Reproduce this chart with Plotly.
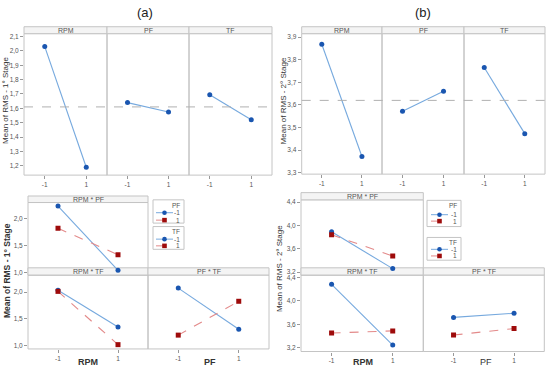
import plotly.graph_objects as go

W, H = 550, 373
levels = [-1, 1]

# ---- data ----
a_main = {"RPM": [2.03, 1.19], "PF": [1.64, 1.575], "TF": [1.695, 1.52]}
b_main = {"RPM": [3.868, 3.372], "PF": [3.572, 3.66], "TF": [3.765, 3.473]}

a_rpm_pf = {"-1": [2.235, 1.04], "1": [1.82, 1.33]}
a_rpm_tf = {"-1": [2.035, 1.35], "1": [2.015, 1.02]}
a_pf_tf = {"-1": [2.076, 1.307], "1": [1.198, 1.83]}

b_rpm_pf = {"-1": [3.89, 3.26], "1": [3.84, 3.476]}
b_rpm_tf = {"-1": [4.283, 3.25], "1": [3.454, 3.49]}
b_pf_tf = {"-1": [3.72, 3.79], "1": [3.42, 3.53]}

legend_levels = ["-1", "1"]

BLUE_L, BLUE_M = "#76a9de", "#1a56b0"
RED_L, RED_M = "#e38a8a", "#9e0b0b"
BORDER = "#c4c4c4"
STRIP = "#f4f4f4"
TXT = "#555555"
TICK = 6.5

def px(x):
    return x / W

def py(y):
    return 1 - y / H

fig = go.Figure()
layout = {}
shapes = []
annotations = []

xi = [0]

def add_panel(yname, y_top, y_bot, x0, x1, strip_h, label, show_xt, show_yaxis, yrange, ytick0, dtick):
    xi[0] += 1
    n = xi[0]
    xkey = "xaxis" if n == 1 else f"xaxis{n}"
    xref = "x" if n == 1 else f"x{n}"
    layout[xkey] = dict(domain=[px(x0), px(x1)], range=[-2, 2], anchor=yname,
                        tickvals=levels, ticktext=["-1", "1"], showticklabels=show_xt,
                        ticks="outside" if show_xt else "", ticklen=3, tickcolor="#999",
                        showgrid=False, zeroline=False, showline=False,
                        tickfont=dict(size=TICK, color=TXT, family="Liberation Sans"))
    ykey = "yaxis" if yname == "y" else "yaxis" + yname[1:]
    if show_yaxis:
        layout[ykey] = dict(domain=[py(y_bot), py(y_top)], range=yrange, anchor=xref,
                            tick0=ytick0, dtick=dtick, tickformat=".1f",
                            ticks="outside", ticklen=3, tickcolor="#999",
                            showgrid=False, zeroline=False, showline=False,
                            tickfont=dict(size=TICK, color=TXT, family="Liberation Sans"))
    shapes.append(dict(type="rect", xref="paper", yref="paper", x0=px(x0), x1=px(x1),
                       y0=py(y_bot), y1=py(y_top), line=dict(color=BORDER, width=1),
                       layer="below"))
    shapes.append(dict(type="rect", xref="paper", yref="paper", x0=px(x0), x1=px(x1),
                       y0=py(y_top), y1=py(y_top - strip_h), fillcolor=STRIP,
                       line=dict(color=BORDER, width=1), layer="below"))
    annotations.append(dict(text=label, x=(px(x0) + px(x1)) / 2, y=py(y_top - strip_h / 2),
                            xref="paper", yref="paper", showarrow=False,
                            xanchor="center", yanchor="middle",
                            font=dict(size=7, color=TXT, family="Liberation Sans")))
    return xref

def main_panel(xref, yref, vals):
    fig.add_trace(go.Scatter(x=levels, y=vals, xaxis=xref, yaxis=yref, mode="lines+markers",
                             line=dict(color=BLUE_L, width=1.1),
                             marker=dict(color=BLUE_M, size=5, symbol="circle"),
                             showlegend=False))

def inter_panel(xref, yref, d):
    for key, lc, mc, dash, sym in [("-1", BLUE_L, BLUE_M, "solid", "circle"),
                                   ("1", RED_L, RED_M, "dash", "square")]:
        fig.add_trace(go.Scatter(x=levels, y=d[key], xaxis=xref, yaxis=yref,
                                 mode="lines+markers", name=key,
                                 line=dict(color=lc, width=1.1, dash=dash),
                                 marker=dict(color=mc, size=5, symbol=sym),
                                 showlegend=False))

# ---- (a) main effects ----
ya = [1.135, 2.12]
xs = [(24, 107), (107, 189), (189, 272)]
for i, (name, (x0, x1)) in enumerate(zip(a_main.keys(), xs)):
    r = add_panel("y", 32, 175, x0, x1, 7, name, True, i == 0, ya, 1.2, 0.1)
    main_panel(r, "y", a_main[name])
mean_a = sum(a_main["RPM"]) / 2
shapes.append(dict(type="line", xref="paper", yref="y", x0=px(24), x1=px(272),
                   y0=mean_a, y1=mean_a, line=dict(color="#b0b0b0", width=1, dash="dash")))

# ---- (b) main effects ----
yb = [3.294, 3.915]
xs = [(301.7, 382), (382, 464), (464, 545)]
for i, (name, (x0, x1)) in enumerate(zip(b_main.keys(), xs)):
    r = add_panel("y2", 32, 174, x0, x1, 7, name, True, i == 0, yb, 3.3, 0.1)
    main_panel(r, "y2", b_main[name])
mean_b = sum(b_main["RPM"]) / 2
shapes.append(dict(type="line", xref="paper", yref="y2", x0=px(301.7), x1=px(545),
                   y0=mean_b, y1=mean_b, line=dict(color="#b0b0b0", width=1, dash="dash")))

# ---- (a) interactions ----
r = add_panel("y3", 202.7, 276, 28, 148, 6.6, "RPM * PF", False, True, [0.953, 2.30], 1.0, 0.5)
inter_panel(r, "y3", a_rpm_pf)
r = add_panel("y4", 276, 350.7, 28, 148, 7.3, "RPM * TF", True, True, [0.94, 2.32], 1.0, 0.5)
inter_panel(r, "y4", a_rpm_tf)
r = add_panel("y4", 276, 350.7, 148, 269, 7.3, "PF * TF", True, False, None, None, None)
inter_panel(r, "y4", a_pf_tf)

# ---- (b) interactions ----
r = add_panel("y5", 200, 276, 301, 423.3, 7.3, "RPM * PF", False, True, [3.15, 4.437], 3.2, 0.4)
inter_panel(r, "y5", b_rpm_pf)
r = add_panel("y6", 276, 353.3, 301, 423.3, 7.3, "RPM * TF", True, True, [3.14, 4.44], 3.2, 0.4)
inter_panel(r, "y6", b_rpm_tf)
r = add_panel("y6", 276, 353.3, 423.3, 544.3, 7.3, "PF * TF", True, False, None, None, None)
inter_panel(r, "y6", b_pf_tf)

# ---- hand-drawn legend boxes ----
def manual_legend(title, bx0, bx1, by0, by1, title_y, lx0, lx1, ys, lab_x):
    shapes.append(dict(type="rect", xref="paper", yref="paper", x0=px(bx0), x1=px(bx1),
                       y0=py(by1), y1=py(by0), line=dict(color=BORDER, width=1),
                       fillcolor="white"))
    annotations.append(dict(text=title, x=px(lab_x), y=py(title_y), xref="paper", yref="paper",
                            showarrow=False, xanchor="right", yanchor="middle",
                            font=dict(size=6.5, color=TXT, family="Liberation Sans")))
    mx = (lx0 + lx1) / 2
    r = 2.3
    for lev, yy, lc, mc, dash, sym in zip(legend_levels, ys, [BLUE_L, RED_L], [BLUE_M, RED_M],
                                          ["solid", "dash"], ["circle", "rect"]):
        shapes.append(dict(type="line", xref="paper", yref="paper", x0=px(lx0), x1=px(lx1),
                           y0=py(yy), y1=py(yy), line=dict(color=lc, width=1, dash=dash)))
        shapes.append(dict(type=sym, xref="paper", yref="paper", x0=px(mx - r), x1=px(mx + r),
                           y0=py(yy + r), y1=py(yy - r), fillcolor=mc, line=dict(color=mc, width=0)))
        annotations.append(dict(text=lev, x=px(lab_x), y=py(yy), xref="paper", yref="paper",
                                showarrow=False, xanchor="right", yanchor="middle",
                                font=dict(size=6.5, color=TXT, family="Liberation Sans")))

manual_legend("PF", 153, 184, 200, 223.5, 205.3, 156, 173, [213, 220.5], 182)
manual_legend("TF", 153, 184, 227, 250, 232.3, 156, 173, [239.7, 246.5], 182)
manual_legend("PF", 427, 461, 200.5, 227, 205.5, 431, 448, [215, 221.5], 459)
manual_legend("TF", 427, 461, 238, 261, 243, 431, 448, [250, 256.7], 459)

# ---- text ----
def note(text, x, y, size, angle=0, bold=False, color="#333"):
    annotations.append(dict(text=f"<b>{text}</b>" if bold else text, x=px(x), y=py(y),
                            xref="paper", yref="paper", showarrow=False, textangle=angle,
                            xanchor="center", yanchor="middle",
                            font=dict(size=size, color=color, family="Liberation Sans")))

note("(a)", 145, 11, 13, color="#222")
note("(b)", 423, 11, 13, color="#222")
note("Mean of RMS - 1° Stage", 6, 100, 8, angle=-90)
note("Mean of RMS - 2° Stage", 283.5, 100, 8, angle=-90)
note("Mean of RMS - 1° Stage", 7, 272, 8.5, angle=-90, bold=True)
note("Mean of RMS - 2° Stage", 279, 270, 8, angle=-90)
note("RPM", 88, 364, 9, bold=True)
note("PF", 210, 364, 9, bold=True)
note("RPM", 363, 364, 9, bold=True)
note("PF", 485.7, 364, 9)

fig.update_layout(width=W, height=H, margin=dict(l=0, r=0, t=0, b=0),
                  paper_bgcolor="white", plot_bgcolor="rgba(0,0,0,0)",
                  separators=",.", shapes=shapes, annotations=annotations,
                  font=dict(family="Liberation Sans"), **layout)

fig.write_html("out.html", config={"displayModeBar": False},
               post_script="document.body.style.margin='0';document.body.style.padding='0';")
